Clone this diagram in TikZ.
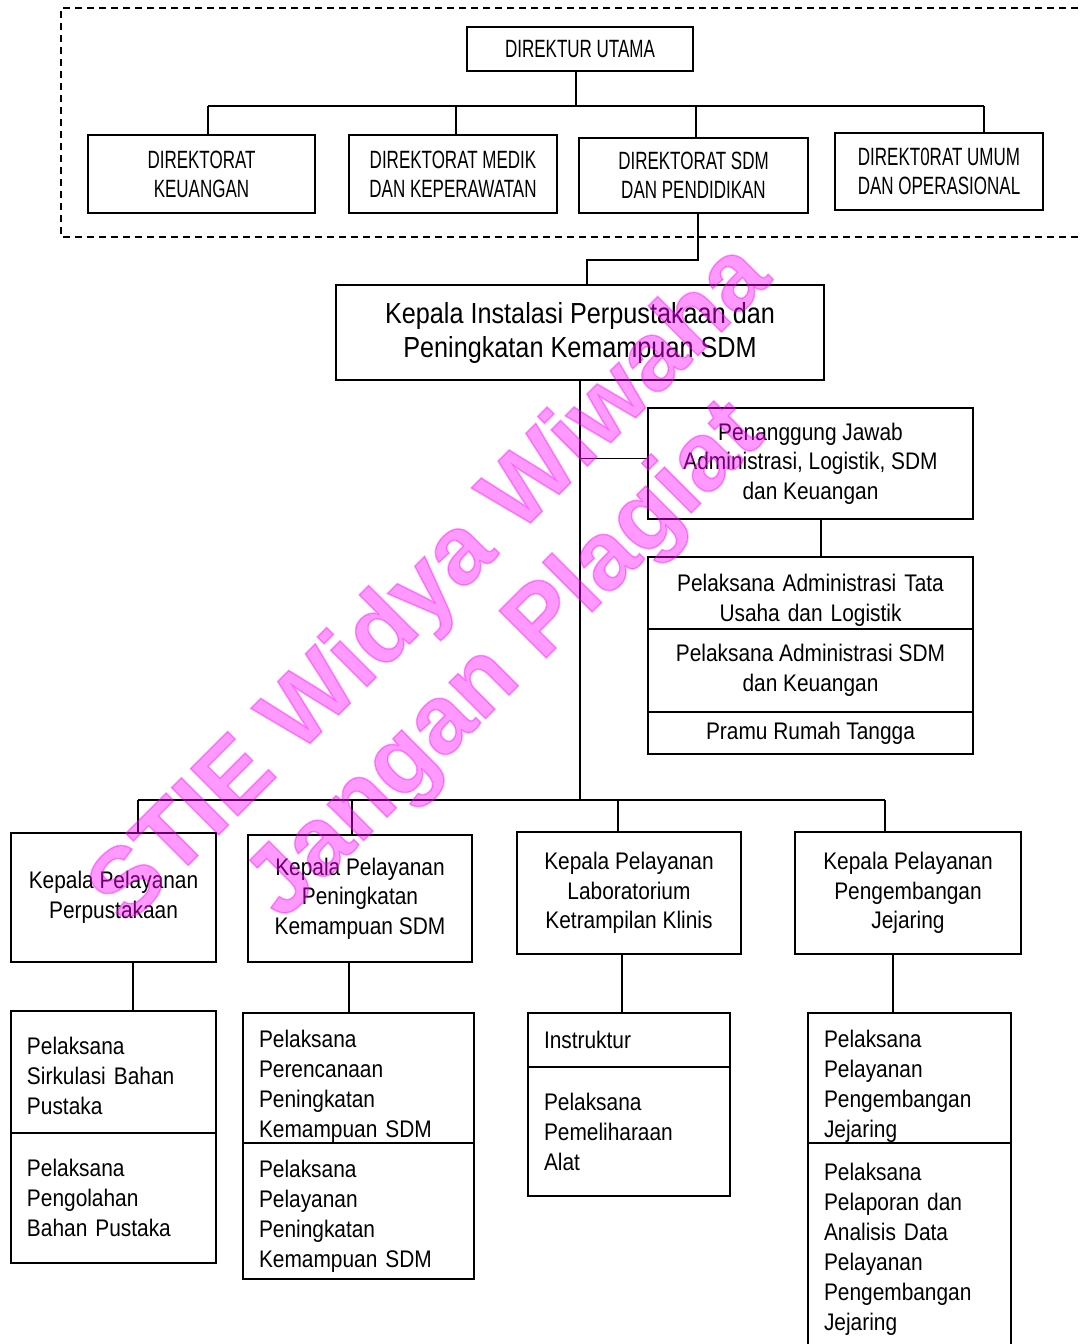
\documentclass[tikz,border=0pt]{standalone}
\usepackage{fontspec}
\setmainfont{Liberation Sans}[FakeStretch=0.87]
\newfontfamily\capsfont{Liberation Sans}[FakeStretch=0.68]
\newfontfamily\wmfont{Liberation Sans Bold}[FakeBold=1.5]
\definecolor{wmpink}{RGB}{255,0,255}
\begin{document}
\begin{tikzpicture}[x=1pt,y=-1pt,
  box/.style={draw,line width=1.6pt,inner sep=0pt,align=center,font=\fontsize{24}{29.5}\selectfont},
  capbox/.style={box,font=\capsfont\fontsize{25}{29}\selectfont},
  bigbox/.style={box,font=\fontsize{29}{34}\selectfont},
  lbox/.style={draw,line width=1.6pt,inner xsep=16pt,inner ysep=0pt,align=left,font=\fontsize{24}{30}\selectfont},
  tshift/.style={execute at begin node={\rule{0pt}{#1}}},
  conn/.style={line width=1.3pt},
  wm/.style={text=wmpink,text opacity=0.4,font=\wmfont\fontsize{97}{97}\selectfont,rotate=45,inner sep=0pt}]
\useasboundingbox (0,0) rectangle (1080,1344);
\fill[white] (0,0) rectangle (1080,1344);
% dashed frame
\draw[line width=1.3pt,dash pattern=on 7pt off 5pt] (1090,8) -- (61,8) -- (61,237) -- (1090,237);
% top level
\node[capbox,minimum width=226pt,minimum height=44pt] (dut) at (580,49) {DIREKTUR UTAMA};
\node[capbox,minimum width=227pt,minimum height=78pt] (dk) at (201.5,174) {DIREKTORAT\\KEUANGAN};
\node[capbox,minimum width=208pt,minimum height=78pt] (dm) at (453,174) {DIREKTORAT MEDIK\\DAN KEPERAWATAN};
\node[capbox,minimum width=229pt,minimum height=75pt] (ds) at (693.5,175.5) {DIREKTORAT SDM\\DAN PENDIDIKAN};
\node[capbox,minimum width=208pt,minimum height=77pt] (du) at (939,171.5) {DIREKT0RAT UMUM\\DAN OPERASIONAL};
\coordinate (busL) at (208,106);
\coordinate (busR) at (984,106);
\draw[conn] (busL) -- (busR);
\draw[conn] ([xshift=-4pt]dut.south) -- ([xshift=-4pt]dut.south |- busL);
\draw[conn] (busL) -- (busL |- dk.north);
\draw[conn] ([xshift=3pt]dm.north) -- ([xshift=3pt]dm.north |- busL);
\draw[conn] ([xshift=2.5pt]ds.north) -- ([xshift=2.5pt]ds.north |- busL);
\draw[conn] (busR) -- (busR |- du.north);
% instalasi
\node[bigbox,minimum width=488pt,minimum height=95pt] (ki) at (580,332.5) {Kepala Instalasi Perpustakaan dan\\Peningkatan Kemampuan SDM};
\coordinate (j1) at (587,260);
\draw[conn] ([xshift=4.5pt]ds.south) |- (j1) -- (j1 |- ki.north);
% right column
\node[box,minimum width=325pt,minimum height=111pt] (pj) at (810.5,463.5) {Penanggung Jawab\\Administrasi, Logistik, SDM\\dan Keuangan};
\node[box,tshift=31.5pt,text width=325pt,minimum height=72pt] (s1) at (810.5,593) {Pelaksana Administrasi Tata\\Usaha dan Logistik};
\node[box,minimum width=325pt,minimum height=83pt] (s2) at (810.5,670.5) {Pelaksana Administrasi SDM\\dan Keuangan};
\node[box,minimum width=325pt,minimum height=42pt] (s3) at (810.5,733) {Pramu Rumah Tangga};
\draw[conn] ([xshift=10.5pt]pj.south) -- ([xshift=10.5pt]s1.north);
\coordinate (bus2L) at (138,800);
\coordinate (bus2R) at (885,800);
\draw[conn] (ki.south) -- (ki.south |- bus2L);
\draw[conn] (ki.south |- pj.west) ++(0,-5) -- ([yshift=5pt]pj.west);
% second level
\node[box,minimum width=205pt,minimum height=129pt] (k1) at (113.5,897.5) {Kepala Pelayanan\\Perpustakaan};
\node[box,minimum width=224pt,minimum height=127pt] (k2) at (360,898.5) {Kepala Pelayanan\\Peningkatan\\Kemampuan SDM};
\node[box,minimum width=224pt,minimum height=122pt] (k3) at (629,893) {Kepala Pelayanan\\Laboratorium\\Ketrampilan Klinis};
\node[box,line width=2pt,minimum width=226pt,minimum height=122pt] (k4) at (908,893) {Kepala Pelayanan\\Pengembangan\\Jejaring};
\coordinate (t2) at (352,800);
\coordinate (t3) at (618,800);
\draw[conn] (bus2L) -- (bus2R);
\draw[conn] (bus2L) -- (bus2L |- k1.north);
\draw[conn] (t2) -- (t2 |- k2.north);
\draw[conn] (t3) -- (t3 |- k3.north);
\draw[conn] (bus2R) -- (bus2R |- k4.north);
% third level
\node[lbox,tshift=25.5pt,text width=173pt,minimum height=122pt] (l1a) at (113.5,1072) {Pelaksana\\Sirkulasi Bahan\\Pustaka};
\node[lbox,text width=173pt,minimum height=130pt] (l1b) at (113.5,1198) {Pelaksana\\Pengolahan\\Bahan Pustaka};
\node[lbox,tshift=33.5pt,text width=199pt,minimum height=130pt] (l2a) at (358.5,1078) {Pelaksana\\Perencanaan\\Peningkatan\\Kemampuan SDM};
\node[lbox,tshift=27.5pt,text width=199pt,minimum height=136pt] (l2b) at (358.5,1211) {Pelaksana\\Pelayanan\\Peningkatan\\Kemampuan SDM};
\node[lbox,text width=170pt,minimum height=54pt] (l3a) at (629,1040) {Instruktur};
\node[lbox,text width=170pt,minimum height=129pt] (l3b) at (629,1131.5) {Pelaksana\\Pemeliharaan\\Alat};
\node[lbox,tshift=33.5pt,text width=171pt,minimum height=130pt] (l4a) at (909.5,1078) {Pelaksana\\Pelayanan\\Pengembangan\\Jejaring};
\node[lbox,tshift=21.5pt,text width=171pt,minimum height=209pt] (l4b) at (909.5,1247.5) {Pelaksana\\Pelaporan dan\\Analisis Data\\Pelayanan\\Pengembangan\\Jejaring};
\draw[conn] ([xshift=19.5pt]k1.south) -- ([xshift=19.5pt]k1.south |- l1a.north);
\draw[conn] ([xshift=-11pt]k2.south) -- ([xshift=-11pt]k2.south |- l2a.north);
\draw[conn] ([xshift=-7pt]k3.south) -- ([xshift=-7pt]k3.south |- l3a.north);
\draw[conn] ([xshift=-15pt]k4.south) -- ([xshift=-15pt]k4.south |- l4a.north);
% watermark
\node[wm] (wm1) at (432,586) {STIE Widya Wiwaha};
\node[wm] (wm2) at (507,662) {Jangan Plagiat};
\end{tikzpicture}
\end{document}
